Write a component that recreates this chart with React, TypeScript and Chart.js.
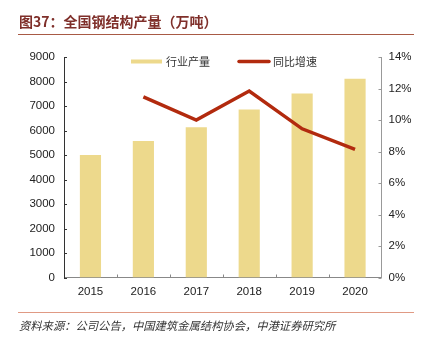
import React, { useEffect, useRef } from "react";
import { Chart, registerables } from "chart.js";

Chart.register(...registerables);

const categories = ["2015", "2016", "2017", "2018", "2019", "2020"];
const output = [5000, 5570, 6130, 6860, 7515, 8110];
const growth = [null, 11.47, 9.99, 11.84, 9.44, 8.13];
const leftTicks = [0, 1000, 2000, 3000, 4000, 5000, 6000, 7000, 8000, 9000];
const rightTicks = [0, 2, 4, 6, 8, 10, 12, 14];

const titleText = "图37：全国钢结构产量（万吨）";
const sourceText = "资料来源：公司公告，中国建筑金属结构协会，中港证券研究所";
const seriesNames = ["行业产量", "同比增速"];

const BAR_COLOR = "#EDD98C";
const LINE_COLOR = "#B22A0E";

export default function App() {
  const ref = useRef<HTMLCanvasElement | null>(null);

  useEffect(() => {
    if (!ref.current) return;
    const sans = "'Liberation Sans', Arial, sans-serif";
    const cjk = "'Noto Sans CJK SC', 'Liberation Sans', sans-serif";

    const deco = {
      id: "deco",
      beforeDraw(chart: any) {
        const c = chart.ctx;
        c.save();
        c.fillStyle = "#ffffff";
        c.fillRect(0, 0, chart.width, chart.height);
        c.restore();
      },
      afterDraw(chart: any) {
        const c = chart.ctx;
        const area = chart.chartArea;
        c.save();
        // title
        c.fillStyle = "#7F2F2A";
        c.font = `bold 14px ${cjk}`;
        c.textBaseline = "middle";
        c.textAlign = "left";
        c.fillText(titleText, 19, 22);
        c.strokeStyle = "#A85A45";
        c.lineWidth = 1;
        c.beginPath();
        c.moveTo(18, 34.5);
        c.lineTo(414, 34.5);
        c.stroke();
        // footer
        c.strokeStyle = "#E09A84";
        c.beginPath();
        c.moveTo(18, 312.5);
        c.lineTo(414, 312.5);
        c.stroke();
        c.fillStyle = "#333333";
        c.font = `italic 11.3px ${cjk}`;
        c.fillText(sourceText, 19, 326);

        // legend
        c.fillStyle = BAR_COLOR;
        c.fillRect(131, 59.5, 31, 4);
        c.fillStyle = "#333333";
        c.font = `11px ${cjk}`;
        c.fillText(seriesNames[0], 166, 62);
        c.strokeStyle = LINE_COLOR;
        c.lineWidth = 3.5;
        c.lineCap = "round";
        c.beginPath();
        c.moveTo(239, 61.5);
        c.lineTo(269, 61.5);
        c.stroke();
        c.fillText(seriesNames[1], 273, 62);

        // inside tick marks
        c.lineCap = "butt";
        c.lineWidth = 1;
        const y = chart.scales.y;
        const y1 = chart.scales.y1;
        c.strokeStyle = "#333333";
        leftTicks.forEach((v) => {
          const p = Math.round(y.getPixelForValue(v)) + 0.5;
          c.beginPath();
          c.moveTo(area.left, p);
          c.lineTo(area.left + 3, p);
          c.stroke();
        });
        c.strokeStyle = "#999999";
        rightTicks.forEach((v) => {
          const p = Math.round(y1.getPixelForValue(v)) + 0.5;
          c.beginPath();
          c.moveTo(area.right, p);
          c.lineTo(area.right - 3, p);
          c.stroke();
        });
        c.strokeStyle = "#888888";
        const w = (area.right - area.left) / categories.length;
        for (let i = 1; i < categories.length; i++) {
          const px = Math.round(area.left + i * w) + 0.5;
          c.beginPath();
          c.moveTo(px, area.bottom);
          c.lineTo(px, area.bottom - 3);
          c.stroke();
        }
        c.restore();
      },
    };

    const chart = new Chart(ref.current, {
      type: "bar",
      data: {
        labels: categories,
        datasets: [
          {
            type: "line",
            label: seriesNames[1],
            data: growth as any,
            yAxisID: "y1",
            borderColor: LINE_COLOR,
            borderWidth: 3.5,
            pointRadius: 0,
            tension: 0,
            spanGaps: false,
            order: 0,
          } as any,
          {
            type: "bar",
            label: seriesNames[0],
            data: output,
            yAxisID: "y",
            backgroundColor: BAR_COLOR,
            barPercentage: 0.4,
            categoryPercentage: 1,
            order: 1,
          },
        ],
      },
      options: {
        responsive: false,
        animation: false,
        layout: { padding: { top: 57, left: 0, right: 0, bottom: 0 } },
        plugins: { legend: { display: false }, title: { display: false }, tooltip: { enabled: false } },
        scales: {
          x: {
            grid: { display: false, drawTicks: false },
            border: { display: true, color: "#888888" },
            ticks: { color: "#222222", font: { family: sans, size: 11.5 }, padding: 7 },
            afterFit: (s: any) => {
              s.height = 70.5;
            },
          },
          y: {
            position: "left",
            min: 0,
            max: 9000,
            grid: { display: false, drawTicks: false },
            border: { display: true, color: "#333333" },
            ticks: {
              stepSize: 1000,
              color: "#222222",
              font: { family: sans, size: 11.5 },
              padding: 9,
              callback: (v: any) => `${v}`,
            },
            afterFit: (s: any) => {
              s.width = 64;
            },
          },
          y1: {
            position: "right",
            min: 0,
            max: 14,
            grid: { display: false, drawTicks: false },
            border: { display: true, color: "#999999" },
            ticks: {
              stepSize: 2,
              color: "#222222",
              font: { family: sans, size: 11.5 },
              padding: 7,
              callback: (v: any) => `${v}%`,
            },
            afterFit: (s: any) => {
              s.width = 41.5;
            },
          },
        },
      },
      plugins: [deco],
    });
    return () => chart.destroy();
  }, []);

  return (
    <div style={{ position: "absolute", left: 0, top: 0, width: 423, height: 348, background: "#fff" }}>
      <canvas ref={ref} width={423} height={348} style={{ display: "block" }} />
    </div>
  );
}
